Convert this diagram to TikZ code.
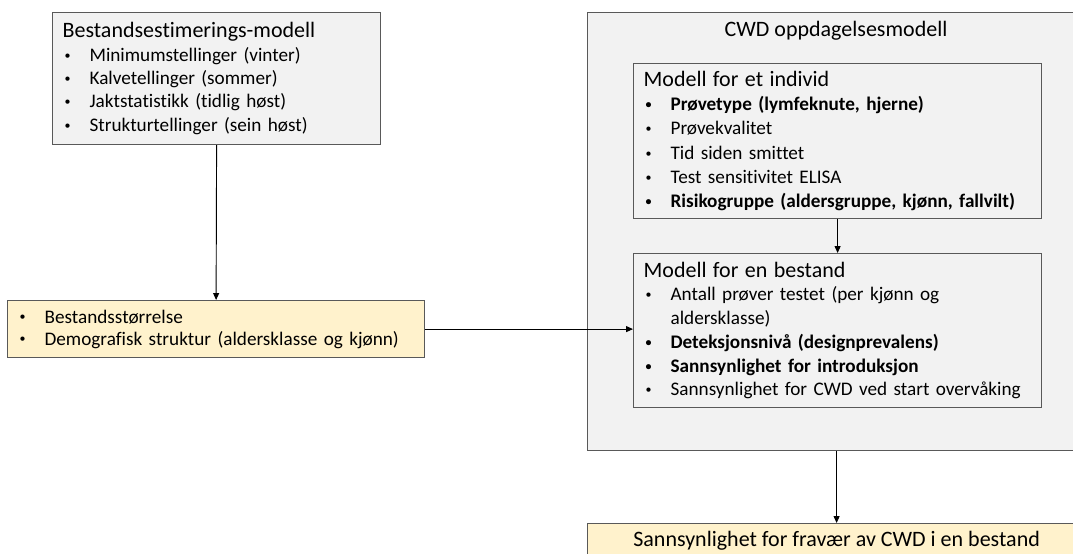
\documentclass[tikz,border=0pt]{standalone}
\usepackage{fontspec}
\setmainfont{Carlito}[Ligatures=NoCommon]
\usetikzlibrary{arrows.meta}
\definecolor{boxgray}{HTML}{F2F2F2}
\definecolor{boxyellow}{HTML}{FFF2CC}
\definecolor{boxline}{HTML}{595959}
\newdimen\px \px=0.75pt
\newcommand\pkt{\makebox[27\px][l]{\hspace*{2\px}\raisebox{1.6pt}{\fontsize{9}{9}\selectfont•}}}
\newcommand\ttl[1]{{\fontsize{16.5}{17.6}\selectfont #1}}
\begin{document}
\begin{tikzpicture}[x=0.75pt,y=-0.75pt,
  boks/.style={draw=boxline,line width=0.9pt,fill=boxgray,anchor=north west,align=left,inner xsep=7.5pt,inner ysep=0pt},
  gulboks/.style={boks,fill=boxyellow},
  pil/.style={-{Triangle[length=5.2pt,width=4.5pt]},line width=0.7pt}]
\useasboundingbox (0,0) rectangle (1073,553);
\clip (0,0) rectangle (1073,553);
% venstre side
\node[boks,minimum width=328\px,minimum height=132\px,text width=308\px,font=\fontsize{14.4}{17.5}\selectfont] (bem) at (52,12)
 {\ttl{Bestandsestimerings-modell}\\
  \pkt Minimumstellinger (vinter)\\
  \pkt Kalvetellinger (sommer)\\
  \pkt Jaktstatistikk (tidlig høst)\\
  \pkt Strukturtellinger (sein høst)};
\node[gulboks,minimum width=417\px,minimum height=57\px,text width=397\px,font=\fontsize{14.4}{16.5}\selectfont] (pop) at (7,300)
 {\pkt Bestandsstørrelse\\
  \pkt Demografisk struktur (aldersklasse og kjønn)};
% hoyre side
\node[boks,minimum width=498\px,minimum height=438\px] (cwd) at (587,12) {};
\node[font=\fontsize{16.5}{17.6}\selectfont] (cwdtitle) at (836,31) {CWD oppdagelsesmodell};
\node[boks,minimum width=408\px,minimum height=155\px,text width=388\px,font=\fontsize{14.4}{18.2}\selectfont] (ind) at (633,63)
 {\ttl{Modell for et individ}\\
  \textbf{\pkt Prøvetype (lymfeknute, hjerne)}\\
  \pkt Prøvekvalitet\\
  \pkt Tid siden smittet\\
  \pkt Test sensitivitet ELISA\\
  \textbf{\pkt Risikogruppe (aldersgruppe, kjønn, fallvilt)}};
\node[boks,minimum width=408\px,minimum height=154\px,text width=388\px,font=\fontsize{14.4}{17.8}\selectfont] (best) at (633,253)
 {\ttl{Modell for en bestand}\\
  \pkt Antall prøver testet (per kjønn og\\
  \hspace*{27\px}aldersklasse)\\
  \textbf{\pkt Deteksjonsnivå (designprevalens)}\\
  \textbf{\pkt Sannsynlighet for introduksjon}\\
  \pkt Sannsynlighet for CWD ved start overvåking};
\node[gulboks,minimum width=498\px,minimum height=34\px,align=center,font=\fontsize{16.5}{17.6}\selectfont] (fravaer) at (587,523)
 {Sannsynlighet for fravær av CWD i en bestand};
% piler
\draw[pil] (bem.south)--(pop.north);
\draw[pil] (pop.east)--(pop.east -| best.west);
\draw[pil] (ind.south)--(best.north);
\draw[pil] (cwd.south)--(fravaer.north);
\end{tikzpicture}
\end{document}
